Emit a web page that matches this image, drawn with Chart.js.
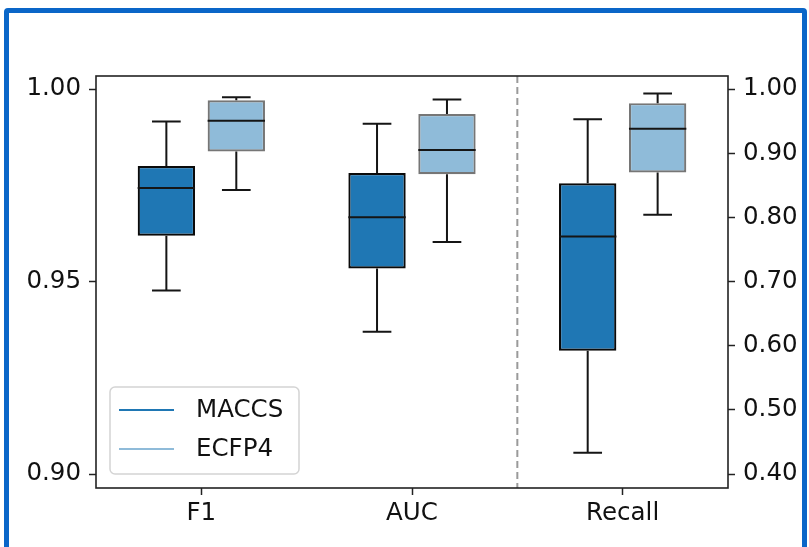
<!DOCTYPE html>
<html>
<head>
<meta charset="utf-8">
<script src="https://cdn.jsdelivr.net/npm/chart.js@4.4.1/dist/chart.umd.min.js"></script>
<style>
  html, body { margin: 0; padding: 0; background: #ffffff; }
  #wrap { position: relative; width: 809px; height: 547px; overflow: hidden; }
  #frame { position: absolute; left: 4px; top: 8px; width: 793px; height: 600px;
           border: 5px solid #0a66c8; border-radius: 4px; box-sizing: content-box; }
  canvas { position: absolute; left: 0; top: 0; }
</style>
</head>
<body>
<div id="wrap">
  <div id="frame"></div>
  <canvas id="c" width="809" height="547"></canvas>
</div>
<script>
// ---- data ----
const categories = ['F1', 'AUC', 'Recall'];
const seriesNames = ['MACCS', 'ECFP4'];
// which category uses the right-hand axis
const rightAxisCategory = [false, false, true];

const maccsLow  = [0.9477, 0.9370, 0.433];
const maccsQ1   = [0.9619, 0.9534, 0.592];
const maccsMed  = [0.9743, 0.9667, 0.770];
const maccsQ3   = [0.9800, 0.9782, 0.853];
const maccsHigh = [0.9916, 0.9910, 0.953];

const ecfpLow  = [0.9738, 0.9603, 0.804];
const ecfpQ1   = [0.9838, 0.9779, 0.870];
const ecfpMed  = [0.9918, 0.9842, 0.938];
const ecfpQ3   = [0.9971, 0.9935, 0.978];
const ecfpHigh = [0.9979, 0.9973, 0.993];

const leftTicks  = [0.90, 0.95, 1.00];
const rightTicks = [0.40, 0.50, 0.60, 0.70, 0.80, 0.90, 1.00];

// ---- styling ----
const FONT = "'DejaVu Sans', 'Liberation Sans', sans-serif";
const FS = 24.5;
const MACCS_FILL = '#1f77b4';
const ECFP_FILL = '#8fbbd9';

const boxStats = [
  { low: maccsLow, q1: maccsQ1, med: maccsMed, q3: maccsQ3, high: maccsHigh },
  { low: ecfpLow,  q1: ecfpQ1,  med: ecfpMed,  q3: ecfpQ3,  high: ecfpHigh }
];

function boxes(s, right) {
  return categories.map((c, i) => rightAxisCategory[i] === right ? [s.q1[i], s.q3[i]] : null);
}

const datasetDefs = [
  { series: 0, right: false, axis: 'y'  },
  { series: 1, right: false, axis: 'y'  },
  { series: 0, right: true,  axis: 'y1' },
  { series: 1, right: true,  axis: 'y1' }
];

const datasets = datasetDefs.map(d => ({
  label: seriesNames[d.series],
  data: boxes(boxStats[d.series], d.right),
  yAxisID: d.axis,
  backgroundColor: d.series === 0 ? MACCS_FILL : ECFP_FILL,
  borderColor: d.series === 0 ? '#0a0a0a' : 'rgba(60,60,60,0.7)',
  borderWidth: 2.2,
  borderSkipped: false,
  skipNull: true,
  categoryPercentage: 0.664,
  barPercentage: 0.82,
  _series: d.series
}));

const whiskerPlugin = {
  id: 'whiskers',
  afterDatasetsDraw(chart) {
    const ctx = chart.ctx;
    chart.data.datasets.forEach((ds, di) => {
      const meta = chart.getDatasetMeta(di);
      const scale = chart.scales[ds.yAxisID];
      const s = boxStats[ds._series];
      meta.data.forEach((el, i) => {
        if (ds.data[i] == null) return;
        const x = el.x, w = el.width;
        const yLow = scale.getPixelForValue(s.low[i]);
        const yQ1 = scale.getPixelForValue(s.q1[i]);
        const yMed = scale.getPixelForValue(s.med[i]);
        const yQ3 = scale.getPixelForValue(s.q3[i]);
        const yHigh = scale.getPixelForValue(s.high[i]);
        ctx.save();
        ctx.strokeStyle = '#151515';
        ctx.lineWidth = 2;
        ctx.beginPath();
        ctx.moveTo(x, yQ1); ctx.lineTo(x, yLow);
        ctx.moveTo(x, yQ3); ctx.lineTo(x, yHigh);
        ctx.moveTo(x - w / 4, yLow); ctx.lineTo(x + w / 4, yLow);
        ctx.moveTo(x - w / 4, yHigh); ctx.lineTo(x + w / 4, yHigh);
        ctx.stroke();
        ctx.beginPath();
        ctx.moveTo(x - w / 2, yMed); ctx.lineTo(x + w / 2, yMed);
        ctx.stroke();
        ctx.restore();
      });
    });
  }
};

const framePlugin = {
  id: 'frameAndDivider',
  afterDatasetsDraw(chart) {
    const { ctx, chartArea: a, scales } = chart;
    ctx.save();
    // dashed divider between left-axis and right-axis categories
    const xs = scales.x;
    const xDiv = (xs.getPixelForValue(1) + xs.getPixelForValue(2)) / 2;
    ctx.strokeStyle = '#9a9a9a';
    ctx.lineWidth = 2;
    ctx.setLineDash([7, 4]);
    ctx.beginPath();
    ctx.moveTo(xDiv, a.top); ctx.lineTo(xDiv, a.bottom);
    ctx.stroke();
    ctx.setLineDash([]);
    // axes frame
    ctx.strokeStyle = '#222222';
    ctx.lineWidth = 1.6;
    ctx.strokeRect(a.left, a.top, a.right - a.left, a.bottom - a.top);
    ctx.restore();
  }
};

const legendPlugin = {
  id: 'boxLegend',
  afterDraw(chart) {
    const { ctx, chartArea: a } = chart;
    const x0 = a.left + 14, y0 = a.bottom - 101, w = 189, h = 87, r = 5;
    ctx.save();
    ctx.fillStyle = 'rgba(255,255,255,0.85)';
    ctx.strokeStyle = '#d4d4d4';
    ctx.lineWidth = 1.5;
    ctx.beginPath();
    ctx.roundRect(x0, y0, w, h, r);
    ctx.fill();
    ctx.stroke();
    const colors = [MACCS_FILL, ECFP_FILL];
    seriesNames.forEach((name, i) => {
      const y = y0 + 23 + i * 39;
      ctx.strokeStyle = colors[i];
      ctx.lineWidth = 2;
      ctx.beginPath();
      ctx.moveTo(x0 + 9, y); ctx.lineTo(x0 + 64, y);
      ctx.stroke();
      ctx.fillStyle = '#111111';
      ctx.font = FS + 'px ' + FONT;
      ctx.textBaseline = 'middle';
      ctx.textAlign = 'left';
      ctx.fillText(name, x0 + 86, y + 1);
    });
    ctx.restore();
  }
};

const tickFont = { family: FONT, size: FS };

new Chart(document.getElementById('c'), {
  type: 'bar',
  data: { labels: categories, datasets },
  options: {
    responsive: false,
    animation: false,
    devicePixelRatio: 1,
    layout: { padding: { top: 76, left: 0, right: 0, bottom: 0 } },
    plugins: { legend: { display: false }, tooltip: { enabled: false } },
    scales: {
      x: {
        grid: { display: true, drawOnChartArea: false, drawTicks: true, offset: false,
                tickLength: 7, tickColor: '#222', tickWidth: 1.5 },
        border: { display: false },
        ticks: { font: tickFont, color: '#111', padding: 4, maxRotation: 0 },
        afterFit(s) { s.height = 59; }
      },
      y: {
        position: 'left',
        min: 0.8964, max: 1.0034,
        afterBuildTicks(s) { s.ticks = leftTicks.map(v => ({ value: v })); },
        grid: { drawOnChartArea: false, drawTicks: true, tickLength: 7, tickColor: '#222', tickWidth: 1.5 },
        border: { display: false },
        ticks: { font: tickFont, color: '#111', padding: 8, callback: v => Number(v).toFixed(2) },
        afterFit(s) { s.width = 96; }
      },
      y1: {
        position: 'right',
        min: 0.3782, max: 1.0203,
        afterBuildTicks(s) { s.ticks = rightTicks.map(v => ({ value: v })); },
        grid: { drawOnChartArea: false, drawTicks: true, tickLength: 7, tickColor: '#222', tickWidth: 1.5 },
        border: { display: false },
        ticks: { font: tickFont, color: '#111', padding: 8, callback: v => Number(v).toFixed(2) },
        afterFit(s) { s.width = 81; }
      }
    }
  },
  plugins: [whiskerPlugin, framePlugin, legendPlugin]
});
</script>
</body>
</html>
